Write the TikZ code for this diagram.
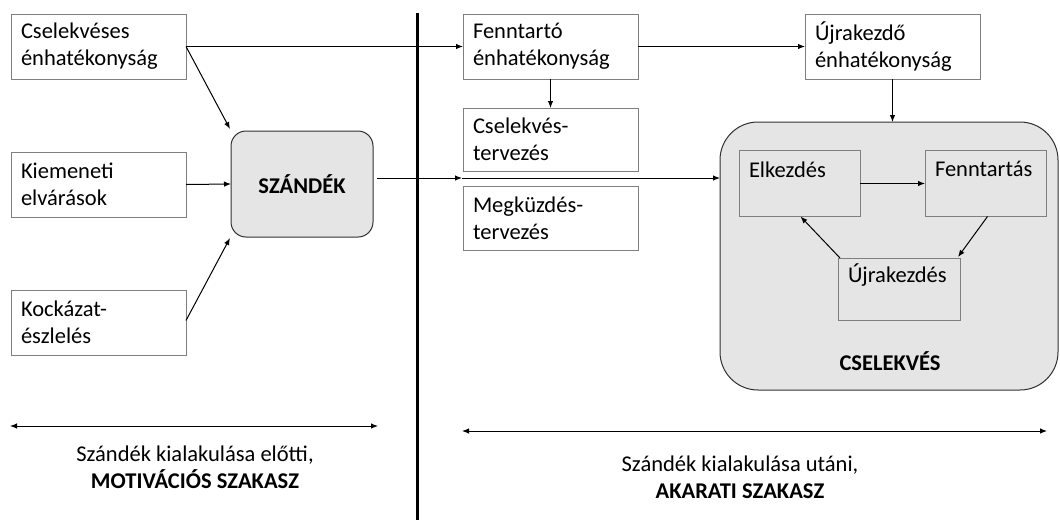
\documentclass[tikz,border=0pt]{standalone}
\usepackage{fontspec}
\setmainfont{Carlito}
\usetikzlibrary{arrows.meta,calc}
\definecolor{boxgray}{HTML}{7F7F7F}
\definecolor{fillgray}{HTML}{E5E5E5}
\definecolor{edgedark}{HTML}{303030}
\begin{document}
\begin{tikzpicture}[x=1pt,y=-1pt,
  font=\fontsize{22.5}{27}\selectfont,
  every node/.style={inner sep=0pt, outer sep=0pt},
  plainbox/.style={draw=boxgray, line width=0.9pt, fill=white,
    minimum width=175pt, minimum height=65pt, text width=155pt, align=left},
  roundbox/.style={draw=edgedark, line width=1pt, fill=fillgray},
  stagebox/.style={draw=boxgray, line width=0.9pt, fill=fillgray,
    minimum width=121pt, minimum height=66pt},
  toplabel/.style 2 args={label={[anchor=north west, xshift=10pt, yshift=#2]north west:#1}},
  arr/.style={line width=1pt, -{Latex[length=7pt,width=5.5pt]}},
  dblarr/.style={line width=1pt, {Latex[length=7pt,width=5.5pt]}-{Latex[length=7pt,width=5.5pt]}}
]
\useasboundingbox (0,0) rectangle (1060,520);

% motivational phase
\node[plainbox] (cse) at (98.5,46.5) {Cselekvéses\\énhatékonyság};
\node[plainbox] (kim) at (98.5,184.5) {Kiemeneti\\elvárások};
\node[plainbox] (koc) at (98.5,322.5) {Kockázat-\\észlelés};
\node[roundbox, rounded corners=15pt, minimum width=142pt, minimum height=106pt]
  (szandek) at (302,184) {\bfseries SZÁNDÉK};

% phase divider
\draw[line width=3pt] (417,13) -- (417,520);

% volitional phase
\node[plainbox] (fenn) at (550.5,46.5) {Fenntartó\\énhatékonyság};
\node[plainbox] (ujra) at (892.5,46.5) {Újrakezdő\\énhatékonyság};
\node[plainbox, minimum height=63pt] (ctervez) at (550.5,139.5) {Cselekvés-\\tervezés};
\node[plainbox, minimum height=64pt] (megk) at (550.5,218) {Megküzdés-\\tervezés};

\node[roundbox, rounded corners=38pt, minimum width=338pt, minimum height=268pt]
  (csel) at (889,256) {};
\node (cseltext) at (890,361) {\bfseries CSELEKVÉS};
\node[stagebox, toplabel={Elkezdés}{-11pt}] (elk) at (799.5,183.5) {};
\node[stagebox, toplabel={Fenntartás}{-11pt}] (fta) at (985.5,183.5) {};
\node[stagebox, minimum width=122pt, minimum height=62pt, toplabel={Újrakezdés}{-6pt}] (ujk) at (899,289) {};

% connectors
\coordinate (mid) at (462,178);
\draw[arr] (cse.east) -- (fenn.west);
\draw[arr] (cse.east) -- ([shift={(-1pt,2pt)}]szandek.north west);
\draw[arr] (kim.east) -- (szandek.west);
\draw[arr] ([yshift=2pt]koc.east) -- ([shift={(-1pt,-1pt)}]szandek.south west);
\draw[arr] ([shift={(4pt,6pt)}]szandek.east) -- (mid);
\draw[arr] (mid) -- (mid -| csel.west);
\draw[arr] (fenn.east) -- (ujra.west);
\draw[arr] (fenn.south) -- (ctervez.north);
\draw[arr] (ujra.south) -- (ujra.south |- csel.north);
\draw[arr] (elk.east) -- (fta.west);
\draw[arr] ([xshift=2pt]fta.south) -- ([shift={(-2pt,1pt)}]ujk.north east);
\draw[arr] ([xshift=2pt]ujk.north west) -- ([xshift=1pt]elk.south);

% phase spans
\coordinate (la) at (10,426);
\coordinate (lb) at (378,426);
\coordinate (ra) at (462,431);
\coordinate (rb) at (1047,431);
\draw[dblarr] (la) -- (lb);
\draw[dblarr] (ra) -- (rb);
\node[align=center] (ltext) at (195,467) {Szándék kialakulása előtti,\\\bfseries MOTIVÁCIÓS SZAKASZ};
\node[align=center] (rtext) at (740,477) {Szándék kialakulása utáni,\\\bfseries AKARATI SZAKASZ};
\end{tikzpicture}
\end{document}
